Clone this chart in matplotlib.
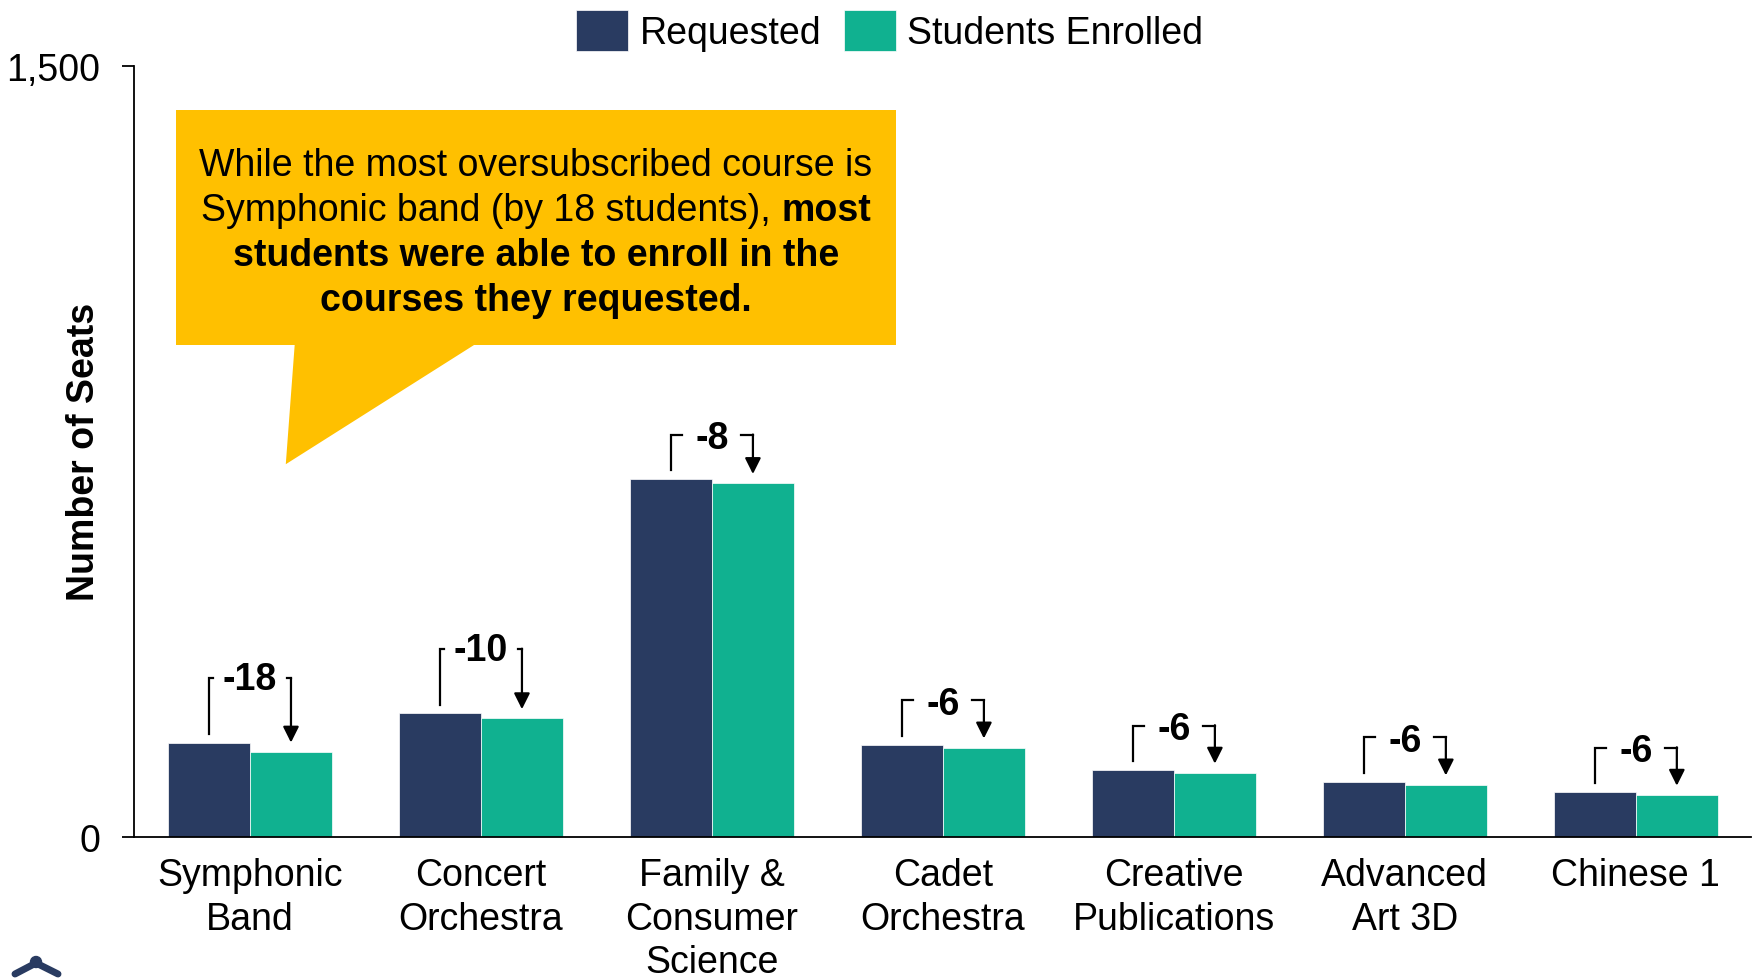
"""Requested vs. enrolled seats for the most oversubscribed courses."""
import matplotlib
matplotlib.use("Agg")
import matplotlib.pyplot as plt
from matplotlib.patches import Polygon, Rectangle
from matplotlib.offsetbox import TextArea, HPacker, VPacker, AnnotationBbox
import numpy as np

courses = [
    "Symphonic\nBand",
    "Concert\nOrchestra",
    "Family &\nConsumer\nScience",
    "Cadet\nOrchestra",
    "Creative\nPublications",
    "Advanced\nArt 3D",
    "Chinese 1",
]
requested = [183, 240, 696, 179, 130, 107, 87]
enrolled = [165, 230, 688, 173, 124, 101, 81]
y_ticks = [0, 1500]
y_tick_labels = ["0", "1,500"]

NAVY = "#293B61"
TEAL = "#10B190"
GOLD = "#FFC000"
FS = 27

plt.rcParams["font.family"] = ["Liberation Sans", "DejaVu Sans"]

fig = plt.figure(figsize=(17.58, 9.79), dpi=100)
ax = fig.add_axes([0.0765, 0.1445, 0.9197, 0.7868])

x = np.arange(len(courses))
w = 0.355
ax.bar(x - w / 2, requested, w, color=NAVY, edgecolor="white", linewidth=0.5,
       label="Requested", zorder=2)
ax.bar(x + w / 2, enrolled, w, color=TEAL, edgecolor="white", linewidth=0.5,
       label="Students Enrolled", zorder=2)

ax.set_xlim(-0.5, len(courses) - 0.5)
ax.set_ylim(0, 1500)
ax.set_yticks(y_ticks)
ax.set_yticklabels(y_tick_labels, fontsize=FS)
ax.set_xticks(x)
ax.set_xticklabels(courses, fontsize=FS, linespacing=1.26)
ax.tick_params(axis="x", length=0, pad=15)
ax.tick_params(axis="y", length=8.5, width=1.3, pad=16)
ax.set_ylabel("Number of Seats", fontsize=FS, fontweight="bold")
ax.yaxis.label.set_va("center")
ax.yaxis.set_label_coords(-0.031, 0.5)
for side in ("top", "right"):
    ax.spines[side].set_visible(False)
for side in ("left", "bottom"):
    ax.spines[side].set_linewidth(1.3)

# difference brackets: up from the requested bar, across, down to enrolled
for i, (r, e) in enumerate(zip(requested, enrolled)):
    diff = e - r
    label = f"{diff:d}"
    two_digit = abs(diff) >= 10
    top = r + (125 if two_digit else 86)
    stub = 0.018 if two_digit else 0.05
    xl, xr = i - w / 2, i + w / 2
    ax.plot([xl, xl, xl + stub], [r + 17, top, top], color="black", lw=1.6,
            solid_joinstyle="miter", zorder=3)
    ax.plot([xr - stub, xr], [top, top], color="black", lw=1.6, zorder=3)
    ax.annotate("", xy=(xr, e + 18), xytext=(xr, top + 0.8),
                arrowprops=dict(arrowstyle="-|>", color="black", lw=1.6,
                                mutation_scale=24, shrinkA=0, shrinkB=0),
                zorder=3)
    ax.text(i, top + (6 if two_digit else 1), label, ha="center",
            va="center_baseline", fontsize=FS, fontweight="bold", zorder=4)

# callout box with pointer
ax.add_patch(Rectangle((-0.32, 958), 3.116, 457, facecolor=GOLD,
                       edgecolor="none", zorder=1))
ax.add_patch(Polygon([(0.194, 960), (0.155, 725), (0.98, 960)], closed=True,
                     facecolor=GOLD, edgecolor="none", zorder=1))

norm = dict(fontsize=FS, color="black")
bold = dict(fontsize=FS, color="black", fontweight="bold")
lines = [
    TextArea("While the most oversubscribed course is", textprops=norm),
    HPacker(children=[TextArea("Symphonic band (by 18 students),", textprops=norm),
                      TextArea("most", textprops=bold)],
            sep=8, pad=0, align="baseline"),
    TextArea("students were able to enroll in the", textprops=bold),
    TextArea("courses they requested.", textprops=bold),
]
block = VPacker(children=lines, sep=6.5, pad=0, align="center")
ax.add_artist(AnnotationBbox(block, (1.238, 1177), xycoords="data",
                             box_alignment=(0.5, 0.5), frameon=False, zorder=5))

fig.legend(loc="center", bbox_to_anchor=(0.506, 0.968), ncol=2, frameon=False,
           fontsize=FS, handlelength=1.4, handleheight=1.3,
           handletextpad=0.3, columnspacing=0.6, borderpad=0)

# small logo mark in the corner
fig.add_artist(plt.Line2D([15, 36, 58], [4, 15, 4], transform=None,
                          color=NAVY, lw=5, solid_capstyle="round",
                          solid_joinstyle="round"))
fig.add_artist(plt.Circle((36, 16), 5.5, transform=None, color=NAVY))

fig.savefig("out.png", dpi=100)
